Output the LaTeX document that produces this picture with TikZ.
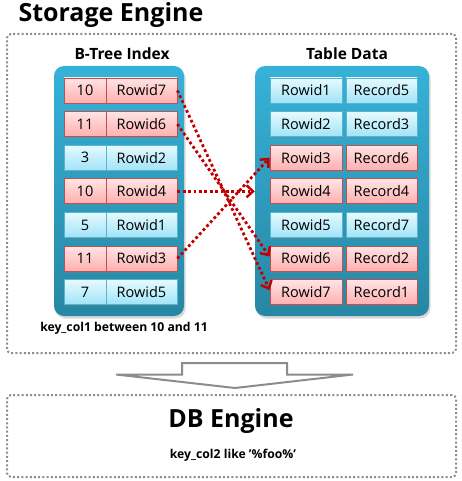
\documentclass[tikz,border=0pt]{standalone}
\usepackage{fontspec}
\setmainfont{Open Sans}
\usetikzlibrary{arrows.meta,shadows}
\definecolor{redtop}{HTML}{FFE4E4}
\definecolor{redbot}{HTML}{FFAFAF}
\definecolor{redline}{HTML}{C0504D}
\definecolor{bluetop}{HTML}{E6FAFF}
\definecolor{bluebot}{HTML}{A0E4F8}
\definecolor{blueline}{HTML}{5AB4CE}
\definecolor{paneltop}{HTML}{36B2D8}
\definecolor{panelbot}{HTML}{2787A4}
\definecolor{ptrred}{HTML}{C00000}
\definecolor{boxgray}{HTML}{8C8C8C}
\tikzset{
  cell/.style={minimum height=25pt, inner sep=0pt, line width=0.8pt,
    font=\fontsize{14.5}{17}\selectfont,
    drop shadow={shadow xshift=1pt, shadow yshift=-1.5pt, opacity=0.35}},
  hit/.style={cell, draw=redline, top color=redtop, bottom color=redbot},
  miss/.style={cell, draw=blueline, top color=bluetop, bottom color=bluebot},
  keyw/.style={minimum width=42pt},
  ridw/.style={minimum width=71pt},
  panel/.style={rounded corners=10pt, top color=paneltop, bottom color=panelbot,
    inner sep=0pt, drop shadow={shadow xshift=1.5pt, shadow yshift=-2.5pt, opacity=0.3}},
  dotbox/.style={draw=boxgray, line width=2pt, dash pattern=on 2pt off 2.2pt, rounded corners=4pt, inner sep=0pt},
  ptr/.style={draw=ptrred, line width=2.8pt, dash pattern=on 2.8pt off 2.6pt,
    -{Straight Barb[length=6.5pt, width=12pt, line width=2.4pt]}},
  ttl/.style={font=\bfseries\fontsize{15.5}{18}\selectfont},
  captxt/.style={font=\bfseries\fontsize{12.2}{14}\selectfont},
  big/.style={font=\bfseries\fontsize{25}{28}\selectfont},
}
\begin{document}
\begin{tikzpicture}[x=1pt,y=-1pt]
\useasboundingbox (0,0) rectangle (462,481);
% title
\node[big, anchor=west] (title) at (15,15) {Storage Engine};
% outer dotted box
\node[dotbox, minimum width=449pt, minimum height=319pt] (se) at (231.5,193.5) {};
% panels
\node[panel, minimum width=130pt, minimum height=250pt] (lp) at (119,191) {};
\node[panel, minimum width=174pt, minimum height=250pt] (rp) at (342,191) {};
\node[ttl] (lt) at (122,54) {B-Tree Index};
\node[ttl] (rt) at (347,54) {Table Data};
% left index rows
\def\ya{90.5}\def\yb{124.1}\def\yc{157.7}\def\yd{191.3}\def\ye{224.9}\def\yf{258.5}\def\yg{292.1}
\node[hit, keyw] (k1) at (85,\ya) {10};  \node[hit, ridw] (l1) at (141.5,\ya) {Rowid7};
\node[hit, keyw] (k2) at (85,\yb) {11};  \node[hit, ridw] (l2) at (141.5,\yb) {Rowid6};
\node[miss, keyw] (k3) at (85,\yc) {3};  \node[miss, ridw] (l3) at (141.5,\yc) {Rowid2};
\node[hit, keyw] (k4) at (85,\yd) {10};  \node[hit, ridw] (l4) at (141.5,\yd) {Rowid4};
\node[miss, keyw] (k5) at (85,\ye) {5};  \node[miss, ridw] (l5) at (141.5,\ye) {Rowid1};
\node[hit, keyw] (k6) at (85,\yf) {11};  \node[hit, ridw] (l6) at (141.5,\yf) {Rowid3};
\node[miss, keyw] (k7) at (85,\yg) {7};  \node[miss, ridw] (l7) at (141.5,\yg) {Rowid5};
% right table rows
\node[miss, minimum width=72pt] (r1) at (306,\ya) {Rowid1}; \node[miss, ridw] (d1) at (381.5,\ya) {Record5};
\node[miss, minimum width=72pt] (r2) at (306,\yb) {Rowid2}; \node[miss, ridw] (d2) at (381.5,\yb) {Record3};
\node[hit, minimum width=72pt] (r3) at (306,\yc) {Rowid3};  \node[hit, ridw] (d3) at (381.5,\yc) {Record6};
\node[hit, minimum width=72pt] (r4) at (306,\yd) {Rowid4};  \node[hit, ridw] (d4) at (381.5,\yd) {Record4};
\node[miss, minimum width=72pt] (r5) at (306,\ye) {Rowid5}; \node[miss, ridw] (d5) at (381.5,\ye) {Record7};
\node[hit, minimum width=72pt] (r6) at (306,\yf) {Rowid6};  \node[hit, ridw] (d6) at (381.5,\yf) {Record2};
\node[hit, minimum width=72pt] (r7) at (306,\yg) {Rowid7};  \node[hit, ridw] (d7) at (381.5,\yg) {Record1};
% pointers
\draw[ptr] (l1.east) -- ([yshift=2pt]r7.west);
\draw[ptr] (l2.east) -- ([yshift=2pt]r6.west);
\draw[ptr] (l4.east) -- (rp.west |- r4.west);
\draw[ptr] (l6.east) -- (r3.west);
\node[captxt] (c1) at (124,328) {key\_col1 between 10 and 11};
% block arrow
\draw[draw=boxgray, line width=2pt, line join=miter]
  (182,363) -- (287,363) -- (287,374.5) -- (353,374.5) -- (235,388) -- (116,374.5) -- (182,374.5) -- cycle;
% DB engine box
\node[dotbox, minimum width=449pt, minimum height=82pt] (db) at (231.5,436) {};
\node[big] (dbt) at (231,421) {DB Engine};
\node[captxt] (c2) at (233,455) {key\_col2 like '\%foo\%'};
\end{tikzpicture}
\end{document}
